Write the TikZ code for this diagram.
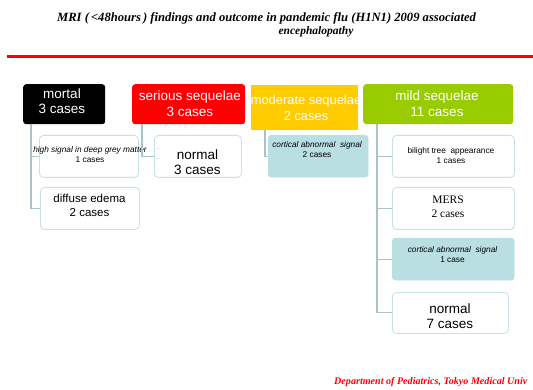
\documentclass[tikz,border=0pt]{standalone}
\usepackage{fontspec}
\setmainfont{Liberation Serif}
\setsansfont{Liberation Sans}
\usetikzlibrary{calc}
\definecolor{boxline}{HTML}{C6E2E5}
\definecolor{connline}{HTML}{A9C3C6}
\definecolor{lblue}{HTML}{B9DFE3}
\definecolor{myyellow}{HTML}{FFCC00}
\definecolor{mygreen}{HTML}{99CC00}
\begin{document}
\begin{tikzpicture}[x=1pt,y=-1pt,
  head/.style={inner sep=0pt, anchor=north west, rounded corners=3pt},
  wbox/.style={draw=boxline, line width=0.8pt, fill=white, rounded corners=4pt, inner sep=0pt, anchor=north west},
  bbox/.style={draw=lblue, fill=lblue, rounded corners=3pt, inner sep=0pt, anchor=north west},
  lbl/.style={inner sep=0pt, align=center, font=\sffamily\fontsize{13.5}{15.5}\selectfont},
  mlbl/.style={inner sep=0pt, align=center, font=\sffamily\fontsize{11.5}{14}\selectfont},
  slbl/.style={inner sep=0pt, align=center, font=\sffamily\fontsize{8.3}{10}\selectfont},
  conn/.style={draw=connline, line width=1.1pt}]
\useasboundingbox (0,0) rectangle (533,390);
% title
\node[inner sep=0pt, font=\bfseries\itshape\fontsize{12.6}{14}\selectfont] (title1) at (266.5,18) {MRI (\,<48hours\,) findings and outcome in pandemic flu (H1N1) 2009 associated};
\node[inner sep=0pt, font=\bfseries\itshape\fontsize{11.5}{14}\selectfont] (title2) at (316,32) {encephalopathy};
\coordinate (rl1) at (7,57);
\coordinate (rl2) at (533,57);
\draw[red, line width=3pt] (rl1) -- (rl2);
% headers
\node[head, fill=black, minimum width=82pt, minimum height=40pt] (mortal) at (23,84) {};
\node[head, fill=red, minimum width=113pt, minimum height=40pt] (serious) at (132,84) {};
\node[head, fill=myyellow, rounded corners=0pt, minimum width=107pt, minimum height=45pt] (moderate) at (251,85) {};
\node[head, fill=mygreen, minimum width=150pt, minimum height=40pt] (mild) at (363,84) {};
\node[lbl, text=white] (mortalT) at (62,101) {mortal\\3 cases};
\node[lbl, text=white] (seriousT) at (190,103.5) {serious sequelae\\3 cases};
\node[lbl, text=white, font=\sffamily\fontsize{12.9}{15.5}\selectfont] (moderateT) at (306,108) {moderate sequelae\\2 cases};
\node[lbl, text=white] (mildT) at (437,103.5) {mild sequelae\\11 cases};
% mortal children
\node[wbox, minimum width=99pt, minimum height=42pt] (high) at (39,135) {};
\node[slbl] (highT) at (90,155) {\itshape high signal in deep grey matter\\1 cases};
\node[wbox, minimum width=99pt, minimum height=42pt] (edema) at (40,187) {};
\node[mlbl] (edemaT) at (89.5,205) {diffuse edema\\2 cases};
% serious child
\node[wbox, minimum width=87pt, minimum height=42pt] (normalA) at (154,135) {};
\node[inner sep=0pt, align=center, font=\sffamily\fontsize{5}{10.5}\selectfont] (dots) at (158,154) {.\\.};
\node[lbl] (normalAT) at (197.5,162) {normal\\3 cases};
% moderate child
\node[bbox, minimum width=100pt, minimum height=42pt] (cortA) at (268,135) {};
\node[slbl] (cortAT) at (317,150) {\itshape cortical abnormal\ \ signal\\2 cases};
% mild children
\node[wbox, minimum width=122pt, minimum height=42pt] (bil) at (392,135) {};
\node[slbl] (bilT) at (451,156) {bilight tree\ \ appearance\\1 cases};
\node[wbox, minimum width=122pt, minimum height=42pt] (mers) at (392,187) {};
\node[inner sep=0pt, align=center, font=\fontsize{11.5}{14}\selectfont] (mersT) at (448,207) {MERS\\2 cases};
\node[bbox, minimum width=122pt, minimum height=42pt] (cortB) at (392,238) {};
\node[slbl] (cortBT) at (452.5,255) {\itshape cortical abnormal\ \ signal\\1 case};
\node[wbox, minimum width=116pt, minimum height=41pt] (normalB) at (392,292) {};
\node[lbl] (normalBT) at (450,316) {normal\\7 cases};
% connectors
\draw[conn] ($(mortal.south west)+(8,0)$) |- (edema.west);
\draw[conn] ($(mortal.south west)+(8,0)$) |- (high.west);
\draw[conn] ($(serious.south west)+(10,0)$) |- (normalA.west);
\draw[conn] ($(moderate.south west)+(14,0)$) |- (cortA.west);
\draw[conn] ($(mild.south west)+(14,0)$) |- (normalB.west);
\draw[conn] ($(mild.south west)+(14,0)$) |- (bil.west);
\draw[conn] ($(mild.south west)+(14,0)$) |- (mers.west);
\draw[conn] ($(mild.south west)+(14,0)$) |- (cortB.west);
% footer
\node[inner sep=0pt, anchor=west, text=red, font=\bfseries\itshape\fontsize{10.1}{12}\selectfont] (foot) at (334,382) {Department of Pediatrics, Tokyo Medical Univ};
\end{tikzpicture}
\end{document}
